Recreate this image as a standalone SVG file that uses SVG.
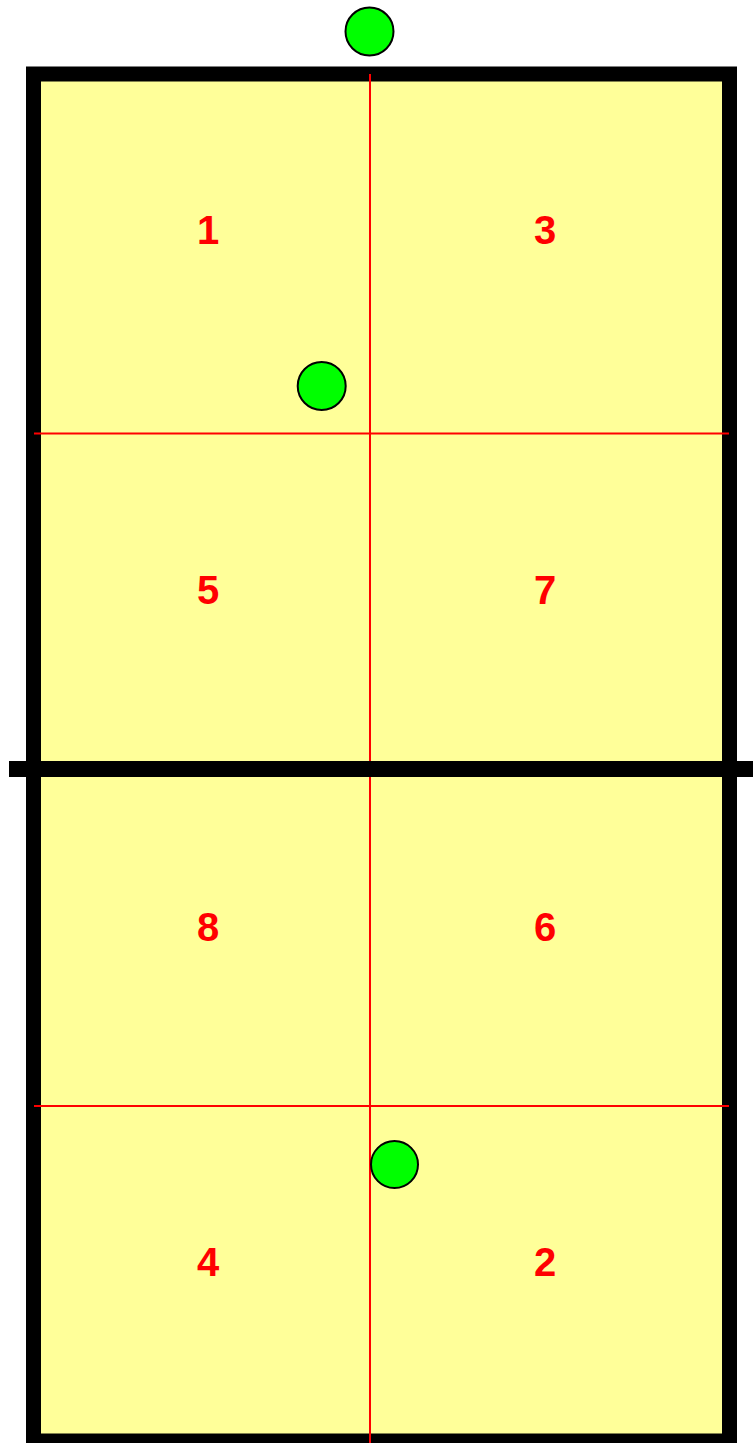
<svg xmlns="http://www.w3.org/2000/svg" width="754" height="1443" viewBox="0 0 754 1443">
<style>
.lbl{font-family:"Liberation Sans",Arial,sans-serif;font-weight:bold;font-size:40px;fill:#FF0000;text-anchor:middle}
.ball{fill:#00FF00;stroke:#000;stroke-width:2}
.red{stroke:#FF0000;stroke-width:2;fill:none}
</style>
<rect width="754" height="1443" fill="#fff"/>
<g id="court">
<rect x="33.5" y="74" width="696" height="1367" fill="#FFFF99" stroke="#000" stroke-width="15"/>
</g>
<g id="lines">
<line class="red" x1="370" y1="74" x2="370" y2="1443"/>
<line class="red" x1="34" y1="433.5" x2="729" y2="433.5"/>
<line class="red" x1="34" y1="1106" x2="729" y2="1106"/>
<line x1="9" y1="769" x2="753" y2="769" stroke="#000" stroke-width="16"/>
</g>
<g id="labels">
<text class="lbl" x="208" y="244">1</text>
<text class="lbl" x="545" y="244">3</text>
<text class="lbl" x="208" y="604">5</text>
<text class="lbl" x="545" y="604">7</text>
<text class="lbl" x="208" y="941">8</text>
<text class="lbl" x="545" y="941">6</text>
<text class="lbl" x="208" y="1276">4</text>
<text class="lbl" x="545" y="1276">2</text>
</g>
<g id="balls">
<circle class="ball" cx="369.5" cy="31.5" r="24"/>
<circle class="ball" cx="321.7" cy="386" r="24"/>
<circle class="ball" cx="394.5" cy="1164.5" r="23.5"/>
</g>
</svg>
